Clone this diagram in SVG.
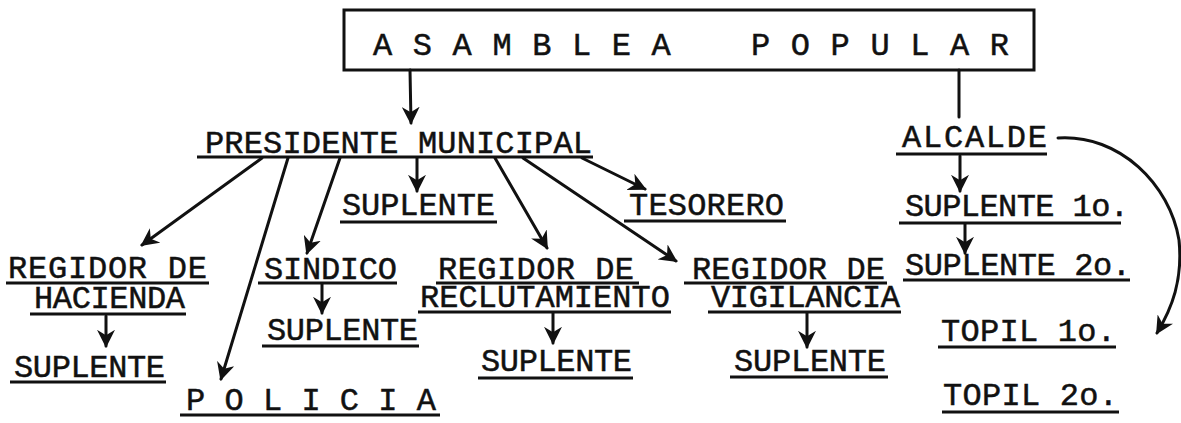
<svg xmlns="http://www.w3.org/2000/svg" width="1181" height="423" viewBox="0 0 1181 423">
<style>
.t{font-family:"Liberation Mono","Courier New",monospace;font-size:32px;fill:#111;stroke:#111;stroke-width:0.5;white-space:pre}
.u{stroke:#111;stroke-width:3;fill:none}
.c{stroke:#111;stroke-width:3;fill:none;stroke-linecap:round}
.a{marker-end:url(#ah)}
</style>
<defs>
<marker id="ah" viewBox="0 0 10 10" refX="9" refY="5" markerWidth="18" markerHeight="18" markerUnits="userSpaceOnUse" orient="auto">
<path d="M0,0 L10,5 L0,10 L3,5 z" fill="#111"/>
</marker>
</defs>
<rect width="1181" height="423" fill="#fff"/>

<g id="asamblea">
<rect x="344" y="10" width="690" height="60" fill="none" stroke="#111" stroke-width="3"/>
<text class="t" x="373" y="55" textLength="636" lengthAdjust="spacing" xml:space="preserve">A S A M B L E A    P O P U L A R</text>
</g>

<g id="presidente">
<text class="t" x="205" y="153" textLength="387" lengthAdjust="spacing">PRESIDENTE MUNICIPAL</text>
<line class="u" x1="197" y1="157" x2="593" y2="157"/>
</g>

<g id="suplente-pres">
<text class="t" x="342" y="215" textLength="153" lengthAdjust="spacing">SUPLENTE</text>
<line class="u" x1="340" y1="222" x2="497" y2="222"/>
</g>

<g id="tesorero">
<text class="t" x="629" y="215" textLength="155" lengthAdjust="spacing">TESORERO</text>
<line class="u" x1="624" y1="221" x2="786" y2="221"/>
</g>

<g id="regidor-hacienda">
<text class="t" x="8" y="278" textLength="199" lengthAdjust="spacing">REGIDOR DE</text>
<line class="u" x1="6" y1="283" x2="209" y2="283"/>
<text class="t" x="34" y="308" textLength="151" lengthAdjust="spacing">HACIENDA</text>
<line class="u" x1="30" y1="314" x2="186" y2="314"/>
</g>

<g id="suplente-hacienda">
<text class="t" x="14" y="377" textLength="151" lengthAdjust="spacing">SUPLENTE</text>
<line class="u" x1="10" y1="382" x2="166" y2="382"/>
</g>

<g id="sindico">
<text class="t" x="264" y="279" textLength="133" lengthAdjust="spacing">SINDICO</text>
<line class="u" x1="258" y1="283" x2="397" y2="283"/>
</g>

<g id="suplente-sindico">
<text class="t" x="267" y="340" textLength="151" lengthAdjust="spacing">SUPLENTE</text>
<line class="u" x1="262" y1="346" x2="419" y2="346"/>
</g>

<g id="regidor-reclutamiento">
<text class="t" x="438" y="279" textLength="196" lengthAdjust="spacing">REGIDOR DE</text>
<line class="u" x1="436" y1="283" x2="639" y2="283"/>
<text class="t" x="420" y="307" textLength="250" lengthAdjust="spacing">RECLUTAMIENTO</text>
<line class="u" x1="418" y1="312" x2="671" y2="312"/>
</g>

<g id="suplente-reclutamiento">
<text class="t" x="481" y="371" textLength="151" lengthAdjust="spacing">SUPLENTE</text>
<line class="u" x1="478" y1="378" x2="633" y2="378"/>
</g>

<g id="regidor-vigilancia">
<text class="t" x="692" y="279" textLength="193" lengthAdjust="spacing">REGIDOR DE</text>
<line class="u" x1="684" y1="283" x2="887" y2="283"/>
<text class="t" x="711" y="307" textLength="189" lengthAdjust="spacing">VIGILANCIA</text>
<line class="u" x1="708" y1="312" x2="901" y2="312"/>
</g>

<g id="suplente-vigilancia">
<text class="t" x="734" y="371" textLength="152" lengthAdjust="spacing">SUPLENTE</text>
<line class="u" x1="730" y1="377" x2="888" y2="377"/>
</g>

<g id="policia">
<text class="t" x="186" y="410" textLength="250" lengthAdjust="spacing" xml:space="preserve">P O L I C I A</text>
<line class="u" x1="180" y1="415" x2="440" y2="415"/>
</g>

<g id="alcalde">
<text class="t" x="902" y="147" textLength="145" lengthAdjust="spacing">ALCALDE</text>
<line class="u" x1="896" y1="154" x2="1047" y2="154"/>
</g>

<g id="suplente-1o">
<text class="t" x="905" y="216" textLength="224" lengthAdjust="spacing">SUPLENTE 1o.</text>
<line class="u" x1="899" y1="223" x2="1121" y2="223"/>
</g>

<g id="suplente-2o">
<text class="t" x="905" y="275" textLength="226" lengthAdjust="spacing">SUPLENTE 2o.</text>
<line class="u" x1="903" y1="280" x2="1130" y2="280"/>
</g>

<g id="topil-1o">
<text class="t" x="941" y="341" textLength="175" lengthAdjust="spacing">TOPIL 1o.</text>
<line class="u" x1="938" y1="347" x2="1116" y2="347"/>
</g>

<g id="topil-2o">
<text class="t" x="943" y="405" textLength="175" lengthAdjust="spacing">TOPIL 2o.</text>
<line class="u" x1="942" y1="412" x2="1119" y2="412"/>
</g>

<g id="connectors">
<line class="c a" x1="410" y1="70" x2="411" y2="123"/>
<line class="c" x1="959" y1="70" x2="959" y2="117"/>
<line class="c a" x1="262" y1="158" x2="142" y2="245"/>
<line class="c a" x1="288" y1="158" x2="221" y2="379"/>
<line class="c a" x1="340" y1="158" x2="307" y2="253"/>
<line class="c a" x1="417" y1="158" x2="417" y2="191"/>
<line class="c a" x1="495" y1="158" x2="547" y2="248"/>
<line class="c a" x1="523" y1="158" x2="676" y2="261"/>
<line class="c a" x1="582" y1="158" x2="645" y2="189"/>
<line class="c a" x1="106" y1="316" x2="106" y2="346"/>
<line class="c a" x1="322" y1="284" x2="322" y2="313"/>
<line class="c a" x1="553" y1="313" x2="553" y2="343"/>
<line class="c a" x1="807" y1="313" x2="807" y2="347"/>
<line class="c a" x1="960" y1="156" x2="960" y2="191"/>
<line class="c a" x1="965" y1="224" x2="965" y2="253"/>
<path class="c a" d="M1058,138 C1120,134 1170,185 1179,240 C1183,280 1172,308 1157,333"/>
</g>
</svg>
